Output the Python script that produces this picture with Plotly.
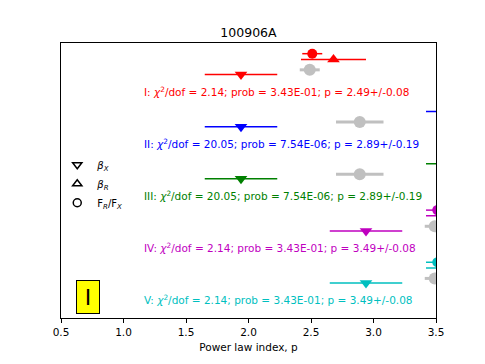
import plotly.graph_objects as go

# fit segments of 100906A
groups = ['I', 'II', 'III', 'IV', 'V']
colors = ['#ff0000', '#0000ff', '#008000', '#bf00bf', '#00bfbf']
chi2_dof = [2.14, 20.05, 20.05, 2.14, 2.14]
prob = [3.43e-01, 7.54e-06, 7.54e-06, 3.43e-01, 3.43e-01]

# fitted power law index p (grey points)
p_fit = [2.49, 2.89, 2.89, 3.49, 3.49]
p_err = [0.08, 0.19, 0.19, 0.08, 0.08]

# p from beta_X (triangle down)
p_betax = [1.94, 1.94, 1.94, 2.94, 2.94]
p_betax_err = [0.29, 0.29, 0.29, 0.29, 0.29]

# p from beta_R (triangle up)
p_betar = [2.68, 3.68, 3.68, 3.68, 3.68]
p_betar_err = [0.26, 0.26, 0.26, 0.26, 0.26]

# p from F_R/F_X (circle)
p_frfx = [2.51, None, None, 3.51, 3.51]
p_frfx_err = [0.08, None, None, 0.09, 0.09]

segment_label = 'I'

# vertical offsets of each row inside a group
off_frfx, off_betar, off_p, off_betax, off_text = -0.40, -0.29, -0.09, 0.0, 0.32

fig = go.Figure()

for i, g in enumerate(groups):
    row = i + 1
    c = colors[i]
    fig.add_trace(go.Scatter(x=[p_fit[i]], y=[row + off_p], mode='markers',
                             marker=dict(symbol='circle', size=12, color='#c0c0c0'),
                             error_x=dict(type='data', array=[p_err[i]], width=0,
                                          thickness=3, color='#c0c0c0'),
                             showlegend=False))
    fig.add_trace(go.Scatter(x=[p_betax[i]], y=[row + off_betax], mode='markers',
                             marker=dict(symbol='triangle-down', size=11, color=c),
                             error_x=dict(type='data', array=[p_betax_err[i]], width=0,
                                          thickness=1.5, color=c),
                             showlegend=False))
    fig.add_trace(go.Scatter(x=[p_betar[i]], y=[row + off_betar], mode='markers',
                             marker=dict(symbol='triangle-up', size=11, color=c),
                             error_x=dict(type='data', array=[p_betar_err[i]], width=0,
                                          thickness=1.5, color=c),
                             showlegend=False))
    if p_frfx[i] is not None:
        fig.add_trace(go.Scatter(x=[p_frfx[i]], y=[row + off_frfx], mode='markers',
                                 marker=dict(symbol='circle', size=10, color=c),
                                 error_x=dict(type='data', array=[p_frfx_err[i]], width=0,
                                              thickness=1.5, color=c),
                                 showlegend=False))
    txt = (f"{g}: <i>χ</i><sup>2</sup>/dof = {chi2_dof[i]:.2f}; prob = {prob[i]:.2E}; "
           f"p = {p_fit[i]:.2f}+/-{p_err[i]:.2f}")
    fig.add_annotation(x=1.148, y=row + off_text, text=txt, showarrow=False,
                       xanchor='left', yanchor='middle',
                       font=dict(color=c, size=10.5))

# legend keys
for sym, name in [('triangle-down-open', '<i>β<sub>X</sub></i>'),
                  ('triangle-up-open', '<i>β<sub>R</sub></i>'),
                  ('circle-open', 'F<sub><i>R</i></sub>/F<sub><i>X</i></sub>')]:
    fig.add_trace(go.Scatter(x=[None], y=[None], mode='markers', name=name,
                             marker=dict(symbol=sym, size=8, color='black',
                                         line=dict(width=1.5, color='black'))))

fig.add_annotation(x=0.718, y=5.27, text=segment_label, showarrow=False,
                   font=dict(size=22, color='black'), bgcolor='#ffff00',
                   bordercolor='black', borderwidth=1, borderpad=1,
                   width=20, height=30)

fig.update_layout(
    width=485, height=364,
    margin=dict(l=61, r=49, t=43, b=42),
    paper_bgcolor='white', plot_bgcolor='white',
    font=dict(family='DejaVu Sans', color='black', size=10.5),
    title=dict(text='100906A', x=0.5, xref='paper', y=1 - 33 / 364, yref='container',
               yanchor='middle', font=dict(size=12.5)),
    legend=dict(x=-0.01, xanchor='left', y=0.61, yanchor='top',
                bgcolor='rgba(0,0,0,0)', font=dict(size=10), tracegroupgap=0),
    xaxis=dict(range=[0.5, 3.5], tickvals=[0.5, 1.0, 1.5, 2.0, 2.5, 3.0, 3.5],
               tickformat='.1f', ticks='outside', ticklen=4, tickcolor='black',
               showline=True, linecolor='black', linewidth=1, mirror=True,
               showgrid=False, zeroline=False,
               title=dict(text='Power law index, p', font=dict(size=10.5), standoff=7)),
    yaxis=dict(range=[5.669, 0.395], showticklabels=False, ticks='',
               showline=True, linecolor='black', linewidth=1, mirror=True,
               showgrid=False, zeroline=False),
)

# drop the browser's default page margin so the figure sits at the window corner
fig.write_html("out.html", config={'displayModeBar': False},
               post_script="document.body.style.margin='0';")
